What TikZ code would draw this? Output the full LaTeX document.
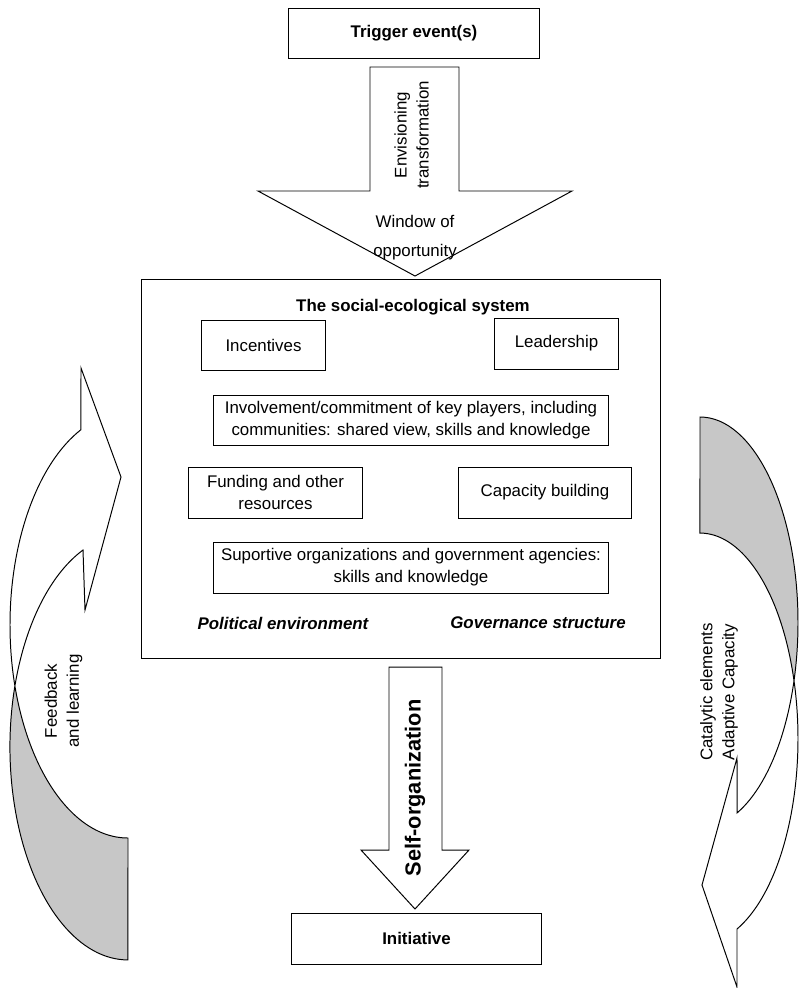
\documentclass[tikz,border=0pt]{standalone}
\usepackage{fontspec}
\setmainfont{Liberation Sans}
\usepackage{tikz}
\usetikzlibrary{positioning}

\newcommand{\diagfont}{\fontsize{12}{15.6}\selectfont}

\begin{document}
\begin{tikzpicture}[x=0.025cm,y=0.025cm,line width=0.7pt,
                    every node/.style={font=\diagfont},
                    box/.style={draw,align=center,inner sep=0pt,minimum height=1.25cm},
                    bigarrow/.style={draw,fill=white,line join=miter},
                    backside/.style={fill=black!22}]
                    \useasboundingbox (0,0) rectangle (800,-988);

                    \node[box,minimum width=6.25cm,font=\diagfont\bfseries] (trig) at (414,-33) {Trigger event(s)};
                    \node[box,minimum width=6.225cm,minimum height=1.275cm,font=\diagfont\bfseries] (init) at (416.5,-938.5) {Initiative};

                    \node[draw,minimum width=12.95cm,minimum height=9.45cm,inner sep=0pt] (ses) at (401,-469) {};
                    \node[font=\diagfont\bfseries] (title) at (413,-307) {The social-ecological system};
                    \node[box,minimum width=3.075cm] (inc) at (263.5,-345) {Incentives};
                    \node[box,minimum width=3.075cm,minimum height=1.275cm] (lead) at (556.5,-343.5) {Leadership};
                    \node[box,minimum width=9.85cm] (inv) at (411,-420) {Involvement/commitment of key players, including\\communities: shared view, skills and knowledge};
                    \node[box,minimum width=4.325cm,minimum height=1.275cm] (fund) at (275.5,-492.5) {Funding and other\\resources};
                    \node[box,minimum width=4.3cm,minimum height=1.275cm] (cap) at (545,-492.5) {Capacity building};
                    \node[box,minimum width=9.85cm,minimum height=1.275cm] (sup) at (411,-567.5) {Suportive organizations and government agencies:\\skills and knowledge};
                    \node[font=\diagfont\bfseries\itshape] (pol) at (283,-623) {Political environment};
                    \node[font=\diagfont\bfseries\itshape] (gov) at (538,-623) {Governance structure};

                    \draw[bigarrow] (370,-67) -- (459,-67) -- (459,-191) -- (572,-191) -- (415,-276) -- (258,-191) -- (370,-191) -- cycle;
                    \node[rotate=90,align=center] (env) at (411.5,-135) {Envisioning\\transformation};
                    \node[align=center] (win) at (415,-237.5) {Window of\\[5pt]opportunity};

                    \draw[bigarrow] (389,-667) -- (442,-667) -- (442,-850) -- (469,-850) -- (415,-909) -- (361,-850) -- (389,-850) -- cycle;
                    \node[rotate=90,font=\fontsize{15.5}{18}\selectfont\bfseries] (selforg) at (415,-788) {Self-organization};

                    \fill[backside] (128,-838) arc[start angle=270,end angle=196.6,x radius=118,y radius=213]
                                    arc[start angle=163.4,end angle=270,x radius=118,y radius=213] -- cycle;
                    \draw[line join=miter] (81,-368) -- (121,-477) -- (85,-610) -- (83,-550)
                                    arc[start angle=112.4,end angle=270,x radius=118,y radius=213] -- (128,-838)
                                    arc[start angle=270,end angle=113.5,x radius=118,y radius=213] -- cycle;
                    \node[rotate=90,align=center] (feed) at (63.5,-701) {Feedback\\and learning};

                    \fill[backside] (700,-417) arc[start angle=90,end angle=-16.4,x radius=98,y radius=205.6]
                                    arc[start angle=16.4,end angle=90,x radius=98,y radius=205.6] -- cycle;
                    \draw[line join=miter] (737,-758) -- (702,-885) -- (737,-987) -- (737,-929)
                                    arc[start angle=-67.8,end angle=90,x radius=98,y radius=205.6] -- (700,-417)
                                    arc[start angle=90,end angle=-67.8,x radius=98,y radius=205.6] -- cycle;
                    \node[rotate=90,align=center] (cat) at (719,-692) {Catalytic elements\\Adaptive Capacity};
\end{tikzpicture}
\end{document}
